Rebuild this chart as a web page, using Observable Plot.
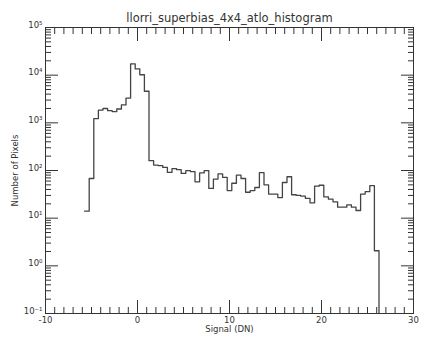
<!DOCTYPE html>
<html>
<head>
<meta charset="utf-8">
<script src="https://cdn.jsdelivr.net/npm/d3@7"></script>
<script src="https://cdn.jsdelivr.net/npm/@observablehq/plot@0.6"></script>
<style>
  html, body { margin: 0; padding: 0; background: white; }
</style>
</head>
<body>
<div id="chart"></div>
<script>
const title = "llorri_superbias_4x4_atlo_histogram";
const xLabel = "Signal (DN)";
const yLabel = "Number of Pixels";
const binWidth = 0.5;
const binCenters = [
  -5.5, -5.0, -4.5, -4.0, -3.5, -3.0, -2.5, -2.0, -1.5, -1.0, -0.5, 0.0, 0.5, 1.0, 1.5, 2.0,
  2.5, 3.0, 3.5, 4.0, 4.5, 5.0, 5.5, 6.0, 6.5, 7.0, 7.5, 8.0, 8.5, 9.0, 9.5, 10.0,
  10.5, 11.0, 11.5, 12.0, 12.5, 13.0, 13.5, 14.0, 14.5, 15.0, 15.5, 16.0, 16.5, 17.0, 17.5, 18.0,
  18.5, 19.0, 19.5, 20.0, 20.5, 21.0, 21.5, 22.0, 22.5, 23.0, 23.5, 24.0, 24.5, 25.0, 25.5, 26.0
];
const counts = [
  14, 68, 1230, 1850, 2000, 1800, 1720, 1950, 2380, 3300, 17300, 13500, 10200, 4600, 161, 130,
  126, 116, 91, 110, 104, 87, 99, 95, 58, 89, 99, 42, 66, 85, 72, 38,
  54, 80, 68, 35, 38, 44, 90, 50, 32, 32, 27, 56, 74, 31, 30, 29,
  26, 21, 47, 49, 28, 25, 22, 17, 17, 19, 17, 14.5, 32, 36, 48, 2.07
];
const xDomain = [-10, 30];
const yDomain = [0.1, 1e5];
const xMajorTicks = [-10, 0, 10, 20, 30];
const xMinorStep = 1;
const yMajorTicks = [0.1, 1, 10, 100, 1000, 10000, 100000];

// step outline: left edge of each bin at its count, then close to the floor at the right
const pts = binCenters.map((c, i) => ({x: c - binWidth / 2, y: counts[i]}));
const lastEdge = binCenters[binCenters.length - 1] + binWidth / 2;
pts.push({x: lastEdge, y: counts[counts.length - 1]});
pts.push({x: lastEdge, y: yDomain[0]});

const xMinorTicks = d3.range(xDomain[0], xDomain[1] + 0.001, xMinorStep).filter(v => !xMajorTicks.includes(v));
const yMinorTicks = [];
for (const p of yMajorTicks.slice(0, -1)) for (let m = 2; m <= 9; m++) yMinorTicks.push(p * m);

const sup = {"-": "⁻", "0": "⁰", "1": "¹", "2": "²", "3": "³", "4": "⁴", "5": "⁵", "6": "⁶", "7": "⁷", "8": "⁸", "9": "⁹"};
const fmtPow = d => "10" + String(Math.round(Math.log10(d))).split("").map(ch => sup[ch]).join("");
const blank = () => "";
const axisColor = "#333";

const chart = Plot.plot({
  width: 423,
  height: 338,
  marginLeft: 45,
  marginRight: 10,
  marginTop: 27,
  marginBottom: 25,
  style: {fontFamily: "DejaVu Sans", fontSize: "9px", color: "#333", background: "white"},
  x: {domain: xDomain},
  y: {type: "log", domain: yDomain},
  marks: [
    // minor ticks (inward, all four sides)
    Plot.axisX({anchor: "bottom", ticks: xMinorTicks, tickSize: -6, tickFormat: blank, label: null, stroke: axisColor}),
    Plot.axisX({anchor: "top", ticks: xMinorTicks, tickSize: -6, tickFormat: blank, label: null, stroke: axisColor}),
    Plot.axisY({anchor: "left", ticks: yMinorTicks, tickSize: -6, tickFormat: blank, label: null, stroke: axisColor}),
    Plot.axisY({anchor: "right", ticks: yMinorTicks, tickSize: -6, tickFormat: blank, label: null, stroke: axisColor}),
    // major ticks
    Plot.axisX({anchor: "bottom", ticks: xMajorTicks, tickSize: -13, tickFormat: blank, label: null, stroke: axisColor}),
    Plot.axisX({anchor: "top", ticks: xMajorTicks, tickSize: -13, tickFormat: blank, label: null, stroke: axisColor}),
    Plot.axisY({anchor: "left", ticks: yMajorTicks, tickSize: -13, tickFormat: blank, label: null, stroke: axisColor}),
    Plot.axisY({anchor: "right", ticks: yMajorTicks, tickSize: -13, tickFormat: blank, label: null, stroke: axisColor}),
    // labels
    Plot.axisX({anchor: "bottom", ticks: xMajorTicks, tickSize: 0, tickPadding: 3, tickFormat: d => String(d),
      fontSize: 8.5, label: xLabel, labelAnchor: "center", labelArrow: "none", labelOffset: 18, fill: "#333"}),
    Plot.axisY({anchor: "left", ticks: yMajorTicks, tickSize: 0, tickPadding: 3, tickFormat: fmtPow, dy: -2.5,
      fontSize: 8.5, label: yLabel, labelAnchor: "center", labelArrow: "none", labelOffset: 34, fill: "#333"}),
    Plot.frame({stroke: axisColor, strokeWidth: 1}),
    Plot.line(pts, {x: "x", y: "y", curve: "step-after", stroke: "#444", strokeWidth: 1.3}),
    Plot.text([title], {frameAnchor: "top", dy: -14, fontSize: 11.5, fill: "#333"})
  ]
});
document.getElementById("chart").appendChild(chart);
</script>
</body>
</html>
